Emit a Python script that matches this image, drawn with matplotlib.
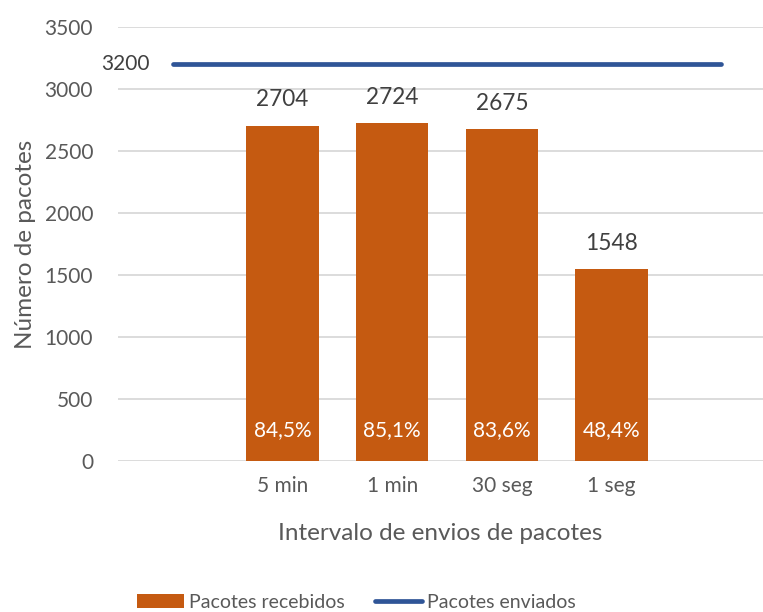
import numpy as np
import matplotlib.pyplot as plt
from matplotlib.lines import Line2D
from matplotlib.patches import Patch

plt.rcParams['font.family'] = ['Lato', 'DejaVu Sans']

categorias = ['', '5 min', '1 min', '30 seg', '1 seg', '']
recebidos = [np.nan, 2704, 2724, 2675, 1548, np.nan]
percentuais = ['', '84,5%', '85,1%', '83,6%', '48,4%', '']
enviados = [3200, 3200, 3200, 3200, 3200, 3200]

cor_barra = '#C55A11'
cor_linha = '#2F5597'
cor_texto = '#595959'
cor_grade = '#D9D9D9'

fig = plt.figure(figsize=(7.63, 6.12), dpi=100)
ax = fig.add_axes([0.1547, 0.2467, 0.8453, 0.7092])

x = np.arange(len(categorias))
ax.bar(x, recebidos, width=0.66, color=cor_barra, zorder=2)
ax.plot(x, enviados, color=cor_linha, linewidth=3.4, solid_capstyle='round', zorder=3)

for xi, v, p in zip(x, recebidos, percentuais):
    if np.isnan(v):
        continue
    ax.annotate(str(int(v)), (xi, v), xytext=(0, 11), textcoords='offset points',
                ha='center', va='bottom', fontsize=16.3, color='#404040')
    ax.annotate(p, (xi, 0), xytext=(0, 22), textcoords='offset points',
                ha='center', va='center', fontsize=15, color='white')

ax.annotate(str(enviados[0]), (x[0], enviados[0]), xytext=(-34, 0), textcoords='offset points',
            ha='center', va='center', fontsize=15, color='#404040')

ax.set_xlim(-0.5, 5.38)
ax.set_ylim(0, 3500)
ax.set_yticks(np.arange(0, 3501, 500))
ax.set_xticks(x)
ax.set_xticklabels(categorias)
ax.grid(axis='y', color=cor_grade, linewidth=1.3, zorder=0)
for s in ax.spines.values():
    s.set_visible(False)
ax.tick_params(axis='both', length=0, labelsize=15, colors=cor_texto)
ax.tick_params(axis='y', pad=18)
ax.tick_params(axis='x', pad=11)

ax.set_xlabel('Intervalo de envios de pacotes', fontsize=17.5, color=cor_texto, labelpad=19)
ax.set_ylabel('Número de pacotes', fontsize=17.5, color=cor_texto, labelpad=6)

handles = [Patch(facecolor=cor_barra), Line2D([0], [0], color=cor_linha, linewidth=3.4, solid_capstyle='round')]
fig.legend(handles, ['Pacotes recebidos', 'Pacotes enviados'], loc='center', bbox_to_anchor=(0.467, 0.016),
           ncol=2, frameon=False, fontsize=14, labelcolor=cor_texto, handlelength=2.4,
           handletextpad=0.25, columnspacing=1.6)

fig.savefig('out.png', dpi=100)
